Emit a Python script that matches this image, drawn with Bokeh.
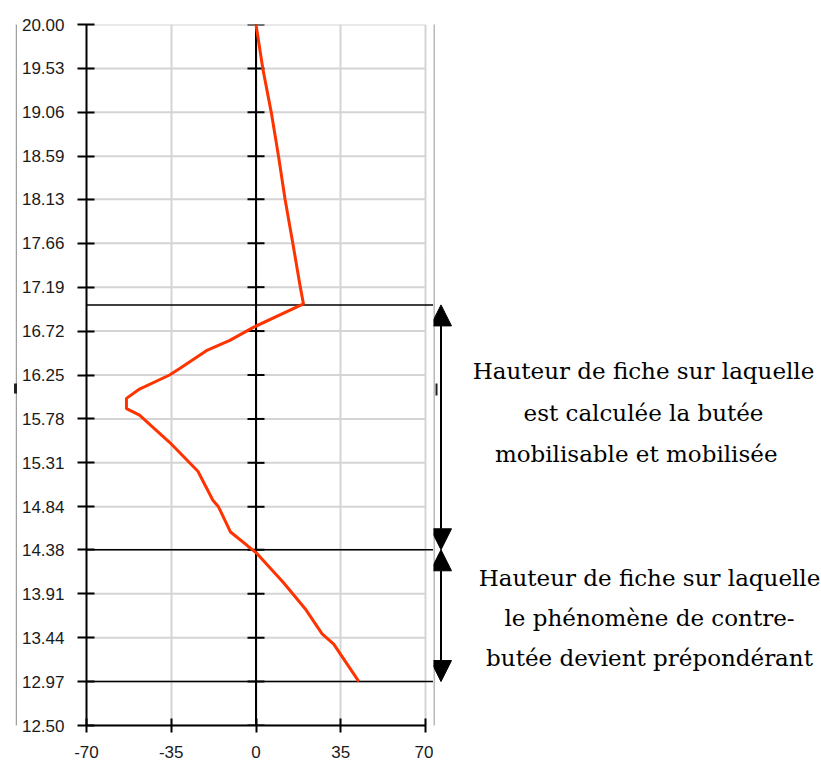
from bokeh.plotting import figure
from bokeh.models import Range1d, FixedTicker, Arrow, NormalHead, Label
from bokeh.layouts import row
from bokeh.embed import file_html
from bokeh.resources import INLINE

# ---------------- data ----------------
yticks = [12.50, 12.97, 13.44, 13.91, 14.38, 14.84, 15.31, 15.78, 16.25,
          16.72, 17.19, 17.66, 18.13, 18.59, 19.06, 19.53, 20.00]
ytick_labels = ["12.50", "12.97", "13.44", "13.91", "14.38", "14.84", "15.31", "15.78", "16.25",
                "16.72", "17.19", "17.66", "18.13", "18.59", "19.06", "19.53", "20.00"]
xticks = [-70, -35, 0, 35, 70]
xtick_labels = ["-70", "-35", "0", "35", "70"]

depth = [20.00, 19.53, 19.06, 18.59, 18.13, 17.66, 17.19, 17.01, 16.76, 16.62,
         16.51, 16.32, 16.25, 16.10, 16.00, 15.89, 15.82, 15.53, 15.22, 14.91,
         14.84, 14.57, 14.35, 14.03, 13.75, 13.48, 13.37, 12.97]
pressure = [0.0, 2.8, 6.3, 9.3, 12.0, 15.2, 18.3, 19.6, -1.1, -10.8,
            -20.5, -31.5, -35.7, -48.1, -53.5, -53.5, -48.1, -35.7, -24.0, -17.8,
            -15.5, -10.5, 0.0, 11.3, 20.3, 27.3, 32.1, 42.5]

zone_levels = [17.0, 14.38, 12.97]
block1 = ["Hauteur de fiche sur laquelle", "est calculée la butée", "mobilisable  et  mobilisée"]
block2 = ["Hauteur de fiche sur laquelle", "le phénomène de contre-", "butée devient prépondérant"]

# ---------------- geometry (page pixels) ----------------
H = 764
W = 821
FRAME_L, FRAME_X70, FRAME_R = 86, 425, 433
FRAME_T, FRAME_B = 24, 725
STRIP_W = 17
ppx = (FRAME_X70 - FRAME_L) / 140.0
ppy = (FRAME_B - FRAME_T) / 7.5
x_end = 70 + (FRAME_R - FRAME_X70) / ppx


def page_to_y(py):
    return 20.0 - (py - FRAME_T) / ppy


def bare_figure(w, x0):
    # frame aligned with the main chart frame (Bokeh aligns frames within a row)
    f = figure(frame_width=w, frame_height=FRAME_B - FRAME_T, title=None,
               x_range=Range1d(x0, x0 + w), y_range=Range1d(12.5, 20.0),
               output_backend="svg", toolbar_location=None,
               min_border_left=0, min_border_right=0,
               min_border_top=FRAME_T, min_border_bottom=H - FRAME_B,
               x_axis_type=None, y_axis_type=None)
    f.grid.visible = False
    f.outline_line_color = None
    return f


# ---------------- left strip (selection frame) ----------------
strip = bare_figure(STRIP_W, 0)
strip.segment(x0=[STRIP_W - 1], y0=[12.5], x1=[STRIP_W - 1], y1=[20.0],
              line_color="#444444", line_width=1.5, line_dash="1 1")
strip.rect(x=[STRIP_W - 1.5], y=[page_to_y(388)], width=4, height=10 / ppy,
           fill_color="#222222", line_color=None)

# ---------------- main chart ----------------
p = figure(frame_width=FRAME_R - FRAME_L, frame_height=FRAME_B - FRAME_T, title=None,
           x_range=Range1d(-70, x_end), y_range=Range1d(12.5, 20.0),
           output_backend="svg", toolbar_location=None,
           min_border_left=FRAME_L - STRIP_W, min_border_right=0,
           min_border_top=FRAME_T, min_border_bottom=H - FRAME_B)
p.outline_line_color = None
p.background_fill_color = "white"
p.border_fill_color = "white"

p.xaxis.ticker = FixedTicker(ticks=xticks)
p.xaxis.major_label_overrides = {v: s for v, s in zip(xticks, xtick_labels)}
p.xaxis.bounds = (-70, 70)
p.yaxis.ticker = FixedTicker(ticks=yticks)
p.yaxis.major_label_overrides = {v: s for v, s in zip(yticks, ytick_labels)}
for ax in (p.xaxis, p.yaxis):
    ax.axis_line_width = 2
    ax.axis_line_color = "black"
    ax.major_tick_line_width = 2
    ax.major_tick_line_color = "black"
    ax.minor_tick_line_color = None
    ax.major_label_text_font = "Liberation Sans"
    ax.major_label_text_font_size = "17px"
    ax.major_label_text_color = "#1a1a1a"
p.yaxis.major_tick_in = 8
p.yaxis.major_tick_out = 9
p.yaxis.major_label_standoff = 13
p.xaxis.major_tick_in = 7
p.xaxis.major_tick_out = 7
p.xaxis.major_label_standoff = 13

p.xgrid.ticker = FixedTicker(ticks=xticks)
p.xgrid.grid_line_color = "#d4d4d4"
p.xgrid.grid_line_width = 2
p.ygrid.grid_line_color = None

# horizontal grey grid lines limited to the x extent [-70, 70]
p.segment(x0=[-70] * len(yticks), y0=yticks, x1=[70] * len(yticks), y1=yticks,
          line_color="#d4d4d4", line_width=2)
# vertical zero line with crossing tick marks
p.segment(x0=[0], y0=[12.5], x1=[0], y1=[20.0], line_color="black", line_width=2)
p.scatter(x=[0] * len(yticks), y=yticks, marker="dash", size=17,
          line_color="black", line_width=2)
# zone boundary lines
p.segment(x0=[-70] * len(zone_levels), y0=zone_levels,
          x1=[x_end] * len(zone_levels), y1=zone_levels,
          line_color="black", line_width=1.5)
# pressure diagram
p.line(pressure, depth, line_color="#ff3300", line_width=3)

# ---------------- right annotation panel ----------------
RW = W - FRAME_R
r = bare_figure(RW, FRAME_R)
r.segment(x0=[FRAME_R + 0.5], y0=[12.5], x1=[FRAME_R + 0.5], y1=[20.0],
          line_color="#444444", line_width=1.5, line_dash="1 1")
r.segment(x0=[436], y0=[page_to_y(383)], x1=[436], y1=[page_to_y(395)],
          line_color="#222222", line_width=2)

AX = 440.5
for y0, y1 in ((zone_levels[1], zone_levels[0]), (zone_levels[1], zone_levels[2])):
    r.add_layout(Arrow(x_start=AX, y_start=y0, x_end=AX, y_end=y1, line_width=2,
                       line_color="black",
                       start=NormalHead(size=21, fill_color="black", line_color="black", line_width=1),
                       end=NormalHead(size=21, fill_color="black", line_color="black", line_width=1)))

for txt, py in zip(block1, (370, 412, 453)):
    r.add_layout(Label(x=643, y=page_to_y(py), text=txt, text_font="DejaVu Serif",
                       text_font_size="23px", text_align="center", text_baseline="middle",
                       text_color="black"))
for txt, py in zip(block2, (577, 617, 657)):
    r.add_layout(Label(x=649, y=page_to_y(py), text=txt, text_font="DejaVu Serif",
                       text_font_size="23px", text_align="center", text_baseline="middle",
                       text_color="black"))

layout = row(strip, p, r, spacing=0)
open("out.html", "w").write(file_html(layout, INLINE))
